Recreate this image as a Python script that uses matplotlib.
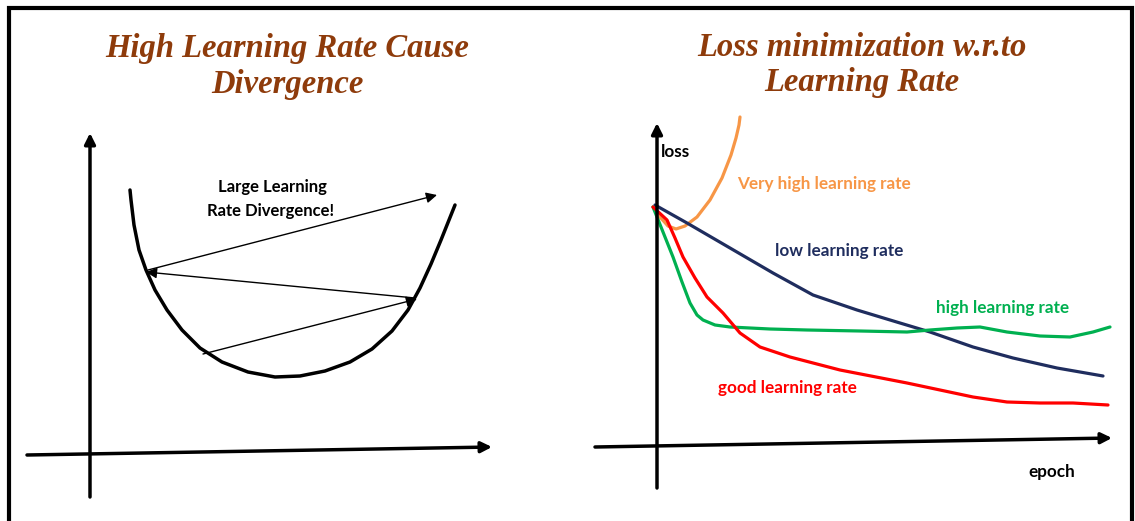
import matplotlib.pyplot as plt

# --- data (pixel coordinates, y grows downward) ---
bowl_x = [130, 131, 134, 139, 146, 155, 167, 182, 200, 222, 248, 275, 300, 325, 350, 372, 392, 408, 420, 431, 441, 449, 455]
bowl_y = [190, 200, 225, 250, 270, 290, 310, 330, 348, 362, 372, 377, 376, 371, 362, 349, 331, 310, 288, 264, 240, 220, 205]

# steps of the diverging gradient descent: (start, end)
steps = [((203, 354), (417, 299)),
         ((415, 298), (146, 272)),
         ((148, 270), (437, 195))]

very_high_x = [653, 660, 668, 676, 685, 697, 710, 722, 731, 736, 739, 740]
very_high_y = [207, 217, 226, 229, 226, 217, 200, 178, 155, 138, 125, 117]

low_x = [655, 687, 730, 773, 813, 857, 900, 930, 973, 1013, 1057, 1103]
low_y = [205, 223, 248, 273, 295, 310, 323, 332, 347, 358, 368, 376]

high_x = [653, 663, 673, 682, 690, 697, 703, 715, 730, 770, 807, 860, 907, 930, 957, 980, 1007, 1040, 1070, 1093, 1110]
high_y = [207, 232, 257, 282, 303, 315, 320, 325, 327, 329, 330, 331, 332, 330, 328, 327, 332, 336, 337, 332, 327]

good_x = [653, 667, 675, 683, 695, 707, 723, 740, 760, 790, 840, 907, 973, 1007, 1040, 1073, 1108]
good_y = [207, 220, 238, 257, 278, 297, 313, 333, 347, 357, 370, 383, 397, 402, 403, 403, 405]

title_color = '#8E3B0B'
orange = '#F79646'
navy = '#1F2D5E'
green = '#00B050'
red = '#FF0000'

fig = plt.figure(figsize=(11.35, 5.21), dpi=100)
ax = fig.add_axes([0, 0, 1, 1])
ax.set_xlim(0, 1135)
ax.set_ylim(521, 0)
ax.axis('off')

# frame
ax.plot([9, 9, 1132, 1132], [525, 8, 8, 525], color='black', lw=3, solid_joinstyle='miter')

# titles
tfont = dict(family='Liberation Serif', fontweight='bold', fontstyle='italic',
             fontsize=23.5, color=title_color, ha='center', va='center')
ax.text(287, 49, 'High Learning Rate Cause', **tfont)
ax.text(287, 85, 'Divergence', **tfont)
ax.text(862, 47, 'Loss minimization w.r.to', **tfont)
ax.text(862, 82, 'Learning Rate', **tfont)

axis_arrow = dict(arrowstyle='-|>', lw=2.5, color='black', mutation_scale=16, shrinkA=0, shrinkB=0)

# left panel axes
ax.annotate('', xy=(90, 133), xytext=(90, 497), arrowprops=axis_arrow)
ax.annotate('', xy=(492, 447), xytext=(27, 455), arrowprops=axis_arrow)

ax.plot(bowl_x, bowl_y, color='black', lw=2.5, solid_capstyle='round', solid_joinstyle='round')
step_arrow = dict(arrowstyle='-|>', lw=1.0, color='black', mutation_scale=16, shrinkA=0, shrinkB=0)
for start, end in steps:
    ax.annotate('', xy=end, xytext=start, arrowprops=step_arrow)

lfont = dict(family='Lato', fontweight='bold', fontsize=12, ha='center', va='center')
ax.text(272, 187, 'Large Learning', color='black', **lfont)
ax.text(271, 211, 'Rate Divergence!', color='black', **lfont)

# right panel axes
ax.annotate('', xy=(657, 123), xytext=(657, 488), arrowprops=axis_arrow)
ax.annotate('', xy=(1112, 438), xytext=(595, 447), arrowprops=axis_arrow)

line_kw = dict(lw=2.3, solid_capstyle='round', solid_joinstyle='round')
ax.plot(very_high_x, very_high_y, color=orange, **line_kw)
ax.plot(low_x, low_y, color=navy, **line_kw)
ax.plot(high_x, high_y, color=green, **line_kw)
ax.plot(good_x, good_y, color=red, **line_kw)

rfont = dict(family='Lato', fontweight='bold', fontsize=12.3, ha='left', va='center')
ax.text(661, 152, 'loss', color='black', **rfont)
ax.text(737, 184, 'Very high learning rate', color=orange, **rfont)
ax.text(775, 251, 'low learning rate', color=navy, **rfont)
ax.text(936, 308, 'high learning rate', color=green, **rfont)
ax.text(718, 388, 'good learning rate', color=red, **rfont)
ax.text(1028, 472, 'epoch', color='black', **rfont)

fig.savefig('out.png', dpi=100)
